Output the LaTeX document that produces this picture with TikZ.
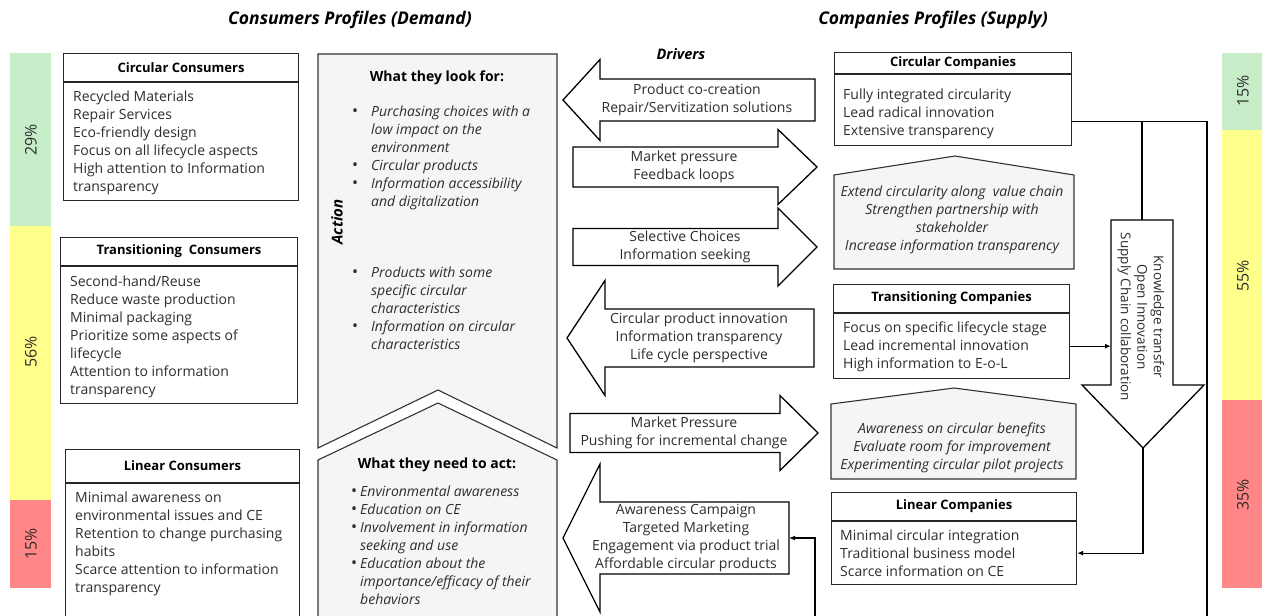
\documentclass[tikz,border=0pt]{standalone}
\usepackage{fontspec}
\setmainfont{Open Sans}
\usetikzlibrary{arrows.meta}
\definecolor{barGreen}{RGB}{198,236,200}
\definecolor{barYellow}{RGB}{255,255,140}
\definecolor{barRed}{RGB}{255,135,135}
\definecolor{panelGray}{RGB}{245,245,245}
\definecolor{txtGray}{RGB}{45,45,45}
\newcommand\txtfont{\fontsize{14}{18}\selectfont}
\newcommand\dotitem{{\upshape\fontsize{16}{18}\selectfont\textbullet}}

\begin{document}
\begin{tikzpicture}[x=1pt,y=-1pt,
    every node/.style={inner sep=0pt, text=txtGray, font=\txtfont},
    boxline/.style={draw=black!85, line width=1.1pt},
    hdrbox/.style={boxline, anchor=north west, font=\fontsize{13}{18}\selectfont\bfseries, text=black},
    bodybox/.style={boxline, anchor=north west},
    listtext/.style={anchor=north west, align=left},
    fat/.style={draw=black, line width=1.3pt, fill=white},
    panel/.style={draw=black!80, line width=1.1pt, fill=panelGray},
    heading/.style={font=\fontsize{17.5}{18}\selectfont\bfseries\itshape, text=black},
    pct/.style={rotate=90, font=\fontsize{16}{18}\selectfont},
    link/.style={draw=black, line width=1.2pt},
    arrowend/.style={-{Latex[length=6pt,width=5pt]}}]
  \clip (0,0) rectangle (1262,616);

  % titles
  \node[heading] (demandTitle) at (350,20) {Consumers Profiles (Demand)};
  \node[heading] (supplyTitle) at (933,20) {Companies Profiles (Supply)};
  \node[heading, font=\fontsize{14.5}{18}\selectfont\bfseries\itshape] (driversTitle) at (681,54) {Drivers};

  % share bars: x / top / bottom / label y / colour / share
  \foreach \x/\ya/\yb/\yl/\c/\p [count=\i] in {10/53/226/140/barGreen/29\%,
      10/226/500/352/barYellow/56\%, 10/500/588/544/barRed/15\%,
      1222/53/130/91/barGreen/15\%, 1222/130/400/276/barYellow/55\%,
      1222/400/588/495/barRed/35\%}{
    \fill[\c] (\x,\ya) rectangle (\x+41,\yb);
    \node[pct] (share\i) at (\x+21,\yl) {\p};
  }

  % consumer profiles
  \node[hdrbox, minimum width=235, minimum height=28] (ccHead) at (63,53) {Circular Consumers};
  \node[bodybox, minimum width=235, minimum height=118] (ccBody) at (ccHead.south west) {};
  \node[listtext] (ccList) at ([xshift=10pt,yshift=-6.4pt]ccBody.north west)
    {\strut Recycled Materials\\Repair Services\\Eco-friendly design\\Focus on all lifecycle aspects\\High attention to Information\\transparency};

  \node[hdrbox, minimum width=237, minimum height=28] (tcHead) at (60,237) {Transitioning\ \ Consumers};
  \node[bodybox, minimum width=237, minimum height=137] (tcBody) at (tcHead.south west) {};
  \node[listtext] (tcList) at ([xshift=10pt,yshift=-7.4pt]tcBody.north west)
    {\strut Second-hand/Reuse\\Reduce waste production\\Minimal packaging\\Prioritize some aspects of\\lifecycle\\Attention to information\\transparency};

  \node[hdrbox, minimum width=234, minimum height=33] (lcHead) at (65,449) {Linear Consumers};
  \node[bodybox, minimum width=234, minimum height=200] (lcBody) at (lcHead.south west) {};
  \node[listtext] (lcList) at ([xshift=10pt,yshift=-6.4pt]lcBody.north west)
    {\strut Minimal awareness on\\environmental issues and CE\\Retention to change purchasing\\habits\\Scarce attention to information\\transparency};

  % action panels
  \draw[panel] (318,54) -- (557,54) -- (557,448) -- (438,390) -- (318,448) -- cycle;
  \draw[panel] (318,640) -- (318,460) -- (438,403) -- (557,460) -- (557,640) -- cycle;
  \node[font=\fontsize{14}{18}\selectfont\bfseries, text=black] (lookTitle) at (437,78) {What they look for:};
  \node[listtext, font=\txtfont\itshape] (lookCircular) at (352,103.4) {\begin{tabular}{@{}p{19pt}@{}l@{}}
      \dotitem & Purchasing choices with a\\ & low impact on the\\ & environment\\
      \dotitem & Circular products\\
      \dotitem & Information accessibility\\ & and digitalization\end{tabular}};
  \node[listtext, font=\txtfont\itshape] (lookTransition) at (352,264.4) {\begin{tabular}{@{}p{19pt}@{}l@{}}
      \dotitem & Products with some\\ & specific circular\\ & characteristics\\
      \dotitem & Information on circular\\ & characteristics\end{tabular}};
  \node[font=\fontsize{15}{18}\selectfont\bfseries\itshape, text=black, rotate=90] (actionLabel) at (337,222) {Action};
  \node[font=\fontsize{14}{18}\selectfont\bfseries, text=black] (needTitle) at (437,465) {What they need to act:};
  \node[listtext, font=\txtfont\itshape] (needList) at (351,483.4) {\begin{tabular}{@{}p{9pt}@{}l@{}}
      \dotitem & Environmental awareness\\
      \dotitem & Education on CE\\
      \dotitem & Involvement in information\\ & seeking and use\\
      \dotitem & Education about the\\ & importance/efficacy of their\\ & behaviors\end{tabular}};

  % drivers towards consumers
  \foreach \n/\tx/\ty/\bx/\hh/\sh/\ex/\cx/\txt in {
      coCreation/563/100/600/40.5/21/815/697/{Product co-creation\\Repair/Servitization solutions},
      innovation/567/338/605/57.5/29/814/699/{Circular product innovation\\Information transparency\\Life cycle perspective},
      campaign/563/538/600/74/36/789/686/{Awareness Campaign\\Targeted Marketing\\Engagement via product trial\\Affordable circular products}}{
    \draw[fat] (\tx,\ty) -- (\bx,\ty-\hh) -- (\bx,\ty-\sh) -- (\ex,\ty-\sh) -- (\ex,\ty+\sh) -- (\bx,\ty+\sh) -- (\bx,\ty+\hh) -- cycle;
    \node[align=center] (\n) at (\cx,\ty) {\strut\txt\strut};
  }
  % drivers towards companies
  \foreach \n/\ax/\ty/\bx/\tx/\hh/\sh/\cx/\txt in {
      pressure/573/167/778/817/37.5/20/684/{Market pressure\\Feedback loops},
      selective/573/247/778/817/39/18.5/685/{Selective Choices\\Information seeking},
      incremental/570/433/780/818/37.5/19.5/684/{Market Pressure\\Pushing for incremental change}}{
    \draw[fat] (\ax,\ty-\sh) -- (\bx,\ty-\sh) -- (\bx,\ty-\hh) -- (\tx,\ty) -- (\bx,\ty+\hh) -- (\bx,\ty+\sh) -- (\ax,\ty+\sh) -- cycle;
    \node[align=center] (\n) at (\cx,\ty) {\strut\txt\strut};
  }

  % company profiles
  \node[hdrbox, minimum width=237, minimum height=21] (ccompHead) at (834,52) {Circular Companies};
  \node[bodybox, minimum width=237, minimum height=71] (ccompBody) at (ccompHead.south west) {};
  \node[listtext] (ccompList) at ([xshift=9pt,yshift=-12.4pt]ccompBody.north west)
    {\strut Fully integrated circularity\\Lead radical innovation\\Extensive transparency};

  \draw[panel] (834,269) -- (834,175) -- (955,156) -- (1074,175) -- (1074,269) -- cycle;
  \node[align=center, font=\txtfont\itshape] (extendNote) at (952,220)
    {\strut Extend circularity along\ \ value chain\\Strengthen partnership with\\stakeholder\\Increase information transparency\strut};

  \node[hdrbox, minimum width=236, minimum height=28] (tcompHead) at (833,284) {Transitioning Companies};
  \node[bodybox, minimum width=236, minimum height=65] (tcompBody) at (tcompHead.south west) {};
  \node[listtext] (tcompList) at ([xshift=10pt,yshift=-6.4pt]tcompBody.north west)
    {\strut Focus on specific lifecycle stage\\Lead incremental innovation\\High information to E-o-L};

  \draw[panel] (831,479) -- (831,404) -- (954,388) -- (1076,404) -- (1076,479) -- cycle;
  \node[align=center, font=\txtfont\itshape] (awareNote) at (952,448)
    {\strut Awareness on circular benefits\\Evaluate room for improvement\\Experimenting circular pilot projects\strut};

  \node[hdrbox, minimum width=245, minimum height=28] (lcompHead) at (831,492) {Linear Companies};
  \node[bodybox, minimum width=245, minimum height=63] (lcompBody) at (lcompHead.south west) {};
  \node[listtext] (lcompList) at ([xshift=9pt,yshift=-6.4pt]lcompBody.north west)
    {\strut Minimal circular integration\\Traditional business model\\Scarce information on CE};

  % collaboration arrow
  \draw[fat] (1111,220) -- (1173,220) -- (1173,385) -- (1204,385) -- (1143,448) -- (1082,385) -- (1111,385) -- cycle;
  \node[align=center, rotate=-90, font=\fontsize{13.5}{16.5}\selectfont] (knowledge) at (1141,317)
    {Knowledge transfer\\Open Innovation\\Supply Chain collaboration};

  % connectors
  \coordinate (cLink) at ([yshift=-11pt]ccompBody.east);
  \coordinate (loopSE) at (1207,640);
  \coordinate (loopSW) at (815,640);
  \coordinate (campaignEnd) at (789,538);
  \coordinate (dnTop) at (1142,220);
  \coordinate (dnLeft) at (1111,344);
  \coordinate (dnTip) at (1143,448);
  \draw[link, arrowend] (cLink) -| (loopSE) -- (loopSW) |- (campaignEnd);
  \draw[link] (cLink -| dnTop) -- (dnTop);
  \draw[link, arrowend] (tcompBody.east) -- (tcompBody.east -| dnLeft);
  \draw[link, arrowend] (dnTip) |- (lcompBody.east);
\end{tikzpicture}
\end{document}
